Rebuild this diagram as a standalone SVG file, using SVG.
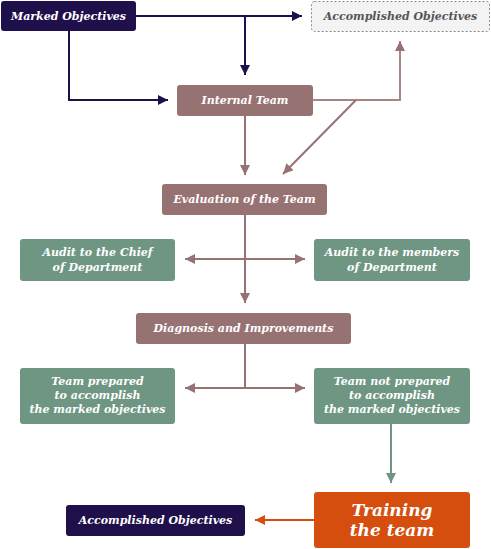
<svg xmlns="http://www.w3.org/2000/svg" width="491" height="549" viewBox="0 0 491 549">
<style>
text{font-family:"DejaVu Serif","Liberation Serif",serif;font-style:italic;font-weight:bold;font-size:11px;fill:#fff;text-anchor:middle}
.dark{fill:#1f0f4b}
.brown{fill:#977272}
.green{fill:#6e9683}
.c{fill:none;stroke-width:2}
</style>
<defs>
<marker id="aD" markerUnits="userSpaceOnUse" markerWidth="10" markerHeight="10" viewBox="0 0 10 10" refX="10" refY="5" orient="auto-start-reverse"><path d="M0,0L10,5L0,10z" fill="#1f0f4b"/></marker>
<marker id="aB" markerUnits="userSpaceOnUse" markerWidth="10" markerHeight="10" viewBox="0 0 10 10" refX="10" refY="5" orient="auto-start-reverse"><path d="M0,0L10,5L0,10z" fill="#977272"/></marker>
<marker id="aG" markerUnits="userSpaceOnUse" markerWidth="10" markerHeight="10" viewBox="0 0 10 10" refX="10" refY="5" orient="auto-start-reverse"><path d="M0,0L10,5L0,10z" fill="#6e9683"/></marker>
<marker id="aO" markerUnits="userSpaceOnUse" markerWidth="10" markerHeight="10" viewBox="0 0 10 10" refX="10" refY="5" orient="auto-start-reverse"><path d="M0,0L10,5L0,10z" fill="#d64e0e"/></marker>
</defs>
<g id="connectors">
<path class="c" stroke="#1f0f4b" d="M136,16H302" marker-end="url(#aD)"/>
<path class="c" stroke="#1f0f4b" d="M245,16V75" marker-end="url(#aD)"/>
<path class="c" stroke="#1f0f4b" d="M69,31V100H168" marker-end="url(#aD)"/>
<path class="c" stroke="#a88585" d="M313,100H400V41" marker-end="url(#aB)"/>
<path class="c" stroke="#977272" d="M356,100L283,174" marker-end="url(#aB)"/>
<path class="c" stroke="#977272" d="M245,116V175" marker-end="url(#aB)"/>
<path class="c" stroke="#977272" d="M245,215V303" marker-end="url(#aB)"/>
<path class="c" stroke="#977272" d="M185,259H305" marker-start="url(#aB)" marker-end="url(#aB)"/>
<path class="c" stroke="#977272" d="M245,344V388"/>
<path class="c" stroke="#977272" d="M185,388H305" marker-start="url(#aB)" marker-end="url(#aB)"/>
<path class="c" stroke="#6e9683" d="M391,424V483" marker-end="url(#aG)"/>
<path class="c" stroke="#d64e0e" d="M314,520H255" marker-end="url(#aO)"/>
</g>
<g id="marked"><rect class="dark" x="1" y="1" width="135" height="30" rx="3"/><text x="68.5" y="20">Marked Objectives</text></g>
<g id="accomplished-top"><rect x="311.5" y="1.5" width="178" height="30" rx="3" fill="#f3f3f4" stroke="#888" stroke-dasharray="2,2"/><text x="400.5" y="20" style="fill:#555">Accomplished Objectives</text></g>
<g id="internal"><rect class="brown" x="177" y="85" width="136" height="31" rx="3"/><text x="245" y="104">Internal Team</text></g>
<g id="evaluation"><rect class="brown" x="162" y="184" width="165" height="31" rx="3"/><text x="244.5" y="203">Evaluation of the Team</text></g>
<g id="audit-chief"><rect class="green" x="20" y="239" width="155" height="42" rx="3"/><text x="97.5" y="256">Audit to the Chief</text><text x="97.5" y="271">of Department</text></g>
<g id="audit-members"><rect class="green" x="314" y="239" width="156" height="42" rx="3"/><text x="392" y="256">Audit to the members</text><text x="392" y="271">of Department</text></g>
<g id="diagnosis"><rect class="brown" x="136" y="313" width="215" height="31" rx="3"/><text x="243.5" y="332">Diagnosis and Improvements</text></g>
<g id="prepared"><rect class="green" x="20" y="368" width="155" height="56" rx="3"/><text x="97.5" y="385">Team prepared</text><text x="97.5" y="399">to accomplish</text><text x="97.5" y="413">the marked objectives</text></g>
<g id="not-prepared"><rect class="green" x="314" y="368" width="156" height="56" rx="3"/><text x="392" y="385">Team not prepared</text><text x="392" y="399">to accomplish</text><text x="392" y="413">the marked objectives</text></g>
<g id="training"><rect x="314" y="492" width="156" height="56" rx="3" fill="#d64e0e"/><text x="392" y="516" style="font-size:17px">Training</text><text x="392" y="536" style="font-size:17px">the team</text></g>
<g id="accomplished-bottom"><rect class="dark" x="66" y="505" width="179" height="31" rx="3"/><text x="155.5" y="524">Accomplished Objectives</text></g>
</svg>
